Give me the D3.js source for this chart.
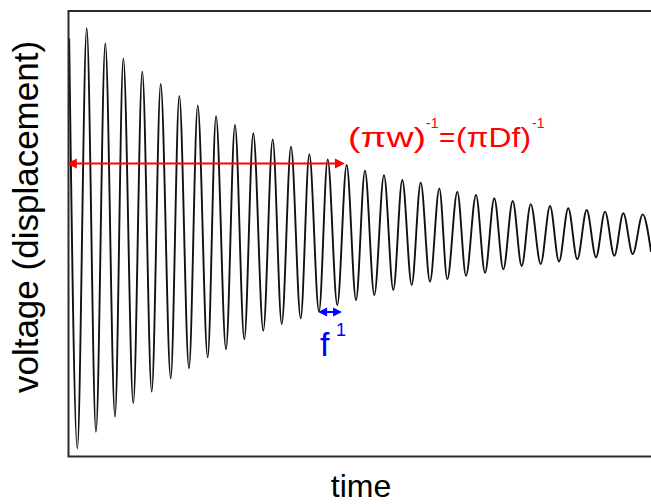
<!DOCTYPE html>
<html>
<head>
<meta charset="utf-8">
<script src="https://cdn.jsdelivr.net/npm/d3@7"></script>
<style>
  html, body { margin: 0; padding: 0; background: #fff; }
  svg { display: block; }
  text { font-family: "Liberation Sans", Arial, sans-serif; }
</style>
</head>
<body>
<svg id="chart" width="651" height="504"></svg>
<script>
// ---- data (time in arbitrary units 0..100, voltage normalised) ----
const startPoint = [0.2, 0.94];
const peakTimes = [3.21, 6.40, 9.49, 12.74, 15.90, 19.09, 22.25, 25.39, 28.64, 31.78,
  35.11, 38.25, 41.39, 44.54, 47.80, 50.94, 54.20, 57.34, 60.50, 63.69,
  66.78, 69.98, 73.12, 76.28, 79.37, 82.68, 85.81, 88.97, 92.11, 95.25, 98.58];
const peakValues = [0.989, 0.918, 0.846, 0.782, 0.724, 0.667, 0.622, 0.571, 0.529, 0.489,
  0.460, 0.425, 0.390, 0.365, 0.338, 0.311, 0.290, 0.267, 0.254, 0.227,
  0.211, 0.195, 0.180, 0.167, 0.152, 0.143, 0.132, 0.124, 0.116, 0.108, 0.103];
const troughTimes = [1.60, 4.80, 8.06, 11.20, 14.36, 17.62, 20.75, 23.96, 27.10, 30.24,
  33.50, 36.66, 39.91, 43.05, 46.19, 49.40, 52.54, 55.80, 58.95, 62.09,
  65.06, 68.27, 71.53, 74.67, 77.82, 81.08, 84.22, 87.36, 90.57, 93.71, 96.86];
const troughValues = [-1.011, -0.932, -0.860, -0.797, -0.741, -0.678, -0.630, -0.578, -0.540, -0.492,
  -0.451, -0.419, -0.392, -0.360, -0.329, -0.305, -0.281, -0.257, -0.233, -0.218,
  -0.206, -0.190, -0.175, -0.159, -0.143, -0.133, -0.122, -0.111, -0.101, -0.094, -0.086];
const endPoint = [100, -0.075];

// annotations
const decaySpan = [-0.2, 47.5];   // (pi w)^-1 arrow extent in time
const decayLevel = 0.345;
const periodSpan = [42.9, 47.0];  // f^-1 arrow extent
const periodLevel = -0.362;

const xLabel = "time";
const yLabel = "voltage (displacement)";

// ---- build series ----
const series = [startPoint]
  .concat(peakTimes.map((t, i) => [t, peakValues[i]]))
  .concat(troughTimes.map((t, i) => [t, troughValues[i]]))
  .concat([endPoint])
  .sort((a, b) => a[0] - b[0]);

const svg = d3.select("#chart");
const x = d3.scaleLinear().domain([0, 100]).range([68, 651]);
const y = d3.scaleLinear().domain([-1.0524, 1.0762]).range([457, 10]);

// signal
const line = d3.line().x(d => x(d[0])).y(d => y(d[1])).curve(d3.curveMonotoneX);
svg.append("path").datum(series)
  .attr("d", line)
  .attr("fill", "none")
  .attr("stroke", "#111")
  .attr("stroke-width", 1.9);

// frame (left, top, bottom; right edge is cut off)
svg.append("path")
  .attr("d", `M660,11 H68.5 V456.5 H660`)
  .attr("fill", "none")
  .attr("stroke", "#2a2a2a")
  .attr("stroke-width", 2);

// arrows
function arrow(g, x0, x1, yy, color, len, half, w) {
  g.append("line").attr("x1", x0 + len * 0.8).attr("x2", x1 - len * 0.8)
    .attr("y1", yy).attr("y2", yy).attr("stroke", color).attr("stroke-width", w);
  g.append("path").attr("d", `M${x0},${yy} L${x0 + len},${yy - half} L${x0 + len},${yy + half} Z`).attr("fill", color);
  g.append("path").attr("d", `M${x1},${yy} L${x1 - len},${yy - half} L${x1 - len},${yy + half} Z`).attr("fill", color);
}
const ann = svg.append("g");
arrow(ann, x(decaySpan[0]), x(decaySpan[1]), y(decayLevel), "#ff0000", 10, 5, 2);
arrow(ann, x(periodSpan[0]), x(periodSpan[1]), y(periodLevel), "#0000ff", 9, 4.5, 2);

// red formula
const red = "#ff0000";
svg.append("text").attr("x", 348).attr("y", 147).attr("font-size", 28).attr("fill", red)
  .attr("textLength", 78).attr("lengthAdjust", "spacingAndGlyphs").text("(\u03C0w)");
svg.append("text").attr("x", 426).attr("y", 128).attr("font-size", 14).attr("fill", red).text("-1");
svg.append("text").attr("x", 439).attr("y", 147).attr("font-size", 28).attr("fill", red).text("=");
svg.append("text").attr("x", 456).attr("y", 147).attr("font-size", 28).attr("fill", red)
  .attr("textLength", 75).attr("lengthAdjust", "spacingAndGlyphs").text("(\u03C0Df)");
svg.append("text").attr("x", 532).attr("y", 128).attr("font-size", 14).attr("fill", red).text("-1");

// blue f^-1
svg.append("text").attr("x", 320).attr("y", 356).attr("font-size", 34).attr("fill", "#0000ff").text("f");
svg.append("text").attr("x", 336).attr("y", 336).attr("font-size", 18).attr("fill", "#0000ff").text("1");

// axis labels
svg.append("text").attr("x", 361).attr("y", 497).attr("text-anchor", "middle")
  .attr("font-size", 32).attr("fill", "#000").text(xLabel);
svg.append("text").attr("transform", "translate(37.5,217) rotate(-90)")
  .attr("text-anchor", "middle").attr("font-size", 35).attr("fill", "#000").text(yLabel);
</script>
</body>
</html>
